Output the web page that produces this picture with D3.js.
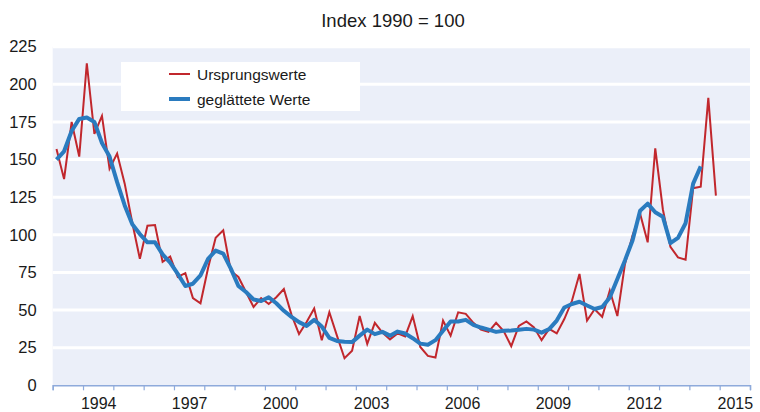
<!DOCTYPE html>
<html lang="de">
<head>
<meta charset="utf-8">
<title>Index 1990 = 100</title>
<script src="https://cdn.jsdelivr.net/npm/d3@7"></script>
<style>
  body { margin: 0; background: #fff; }
  text { font-family: "Liberation Sans", Arial, sans-serif; fill: #1a1a1a; }
</style>
</head>
<body>
<div id="chart"></div>
<script>
// quarterly values, first quarter = 1993 Q1
const startYear = 1993;
const ursprung = [
  157, 137, 175, 152,   214, 167, 179, 144,   154, 134, 108, 84,
  106, 106.5, 82, 85.5, 72, 74.5, 58, 54.5,   78, 98, 103, 76,
  72, 62, 52, 58,       54, 58.5, 64, 47,     34, 42, 51, 30,
  48.5, 33, 18, 23,     46, 27.5, 41.5, 35,   30.5, 34.5, 32.5, 46,
  25.5, 19.5, 18.5, 43, 33, 48.5, 47.5, 41.5, 37, 35.5, 41.5, 36,
  26, 39.5, 42.5, 38.5, 30, 37.5, 34.5, 44,   56, 74, 43, 50.5,
  45.5, 63, 46, 80.5,   99.5, 114, 95, 157.5, 117, 92, 85, 83.5,
  131, 132, 191, 126
];
const geglaettet = [
  150, 155.5, 169, 177, 178, 175, 161, 152,   135, 119.5, 107, 100.5,
  95, 95, 87, 81.5,     74, 66, 67.5, 73,     84, 89.5, 87.5, 77.5,
  66, 62, 57, 56,       58.5, 54.5, 49.5, 45.5, 42, 39.5, 43.5, 39,
  31.5, 29.5, 29, 28.7, 33, 37, 34, 35.5,     33, 35.7, 34.4, 31.3,
  27.7, 27, 30, 36.2,   42.4, 42.4, 43.5, 40.2, 38.4, 37, 35.5, 36.2,
  36.4, 36.9, 37.5, 37, 35, 37.3, 43, 51.7,   54, 55.5, 53, 50.7,
  52, 58.4, 70.7, 83,   96.2, 116, 120.7, 115, 112, 94.5, 98, 107.7,
  134, 145.5
];
const yTicks = [0, 25, 50, 75, 100, 125, 150, 175, 200, 225];
const yearTicks = d3.range(1993, 2017);
const yearLabels = [1994, 1997, 2000, 2003, 2006, 2009, 2012, 2015];
const seriesNames = ["Ursprungswerte", "geglättete Werte"];
const colors = ["#c1272d", "#2a7bbf"];

const width = 760, height = 412;
const margin = {top: 46.7, right: 10, bottom: 26.7, left: 52.7};

const svg = d3.select("#chart").append("svg")
    .attr("width", width)
    .attr("height", height);

const x = d3.scaleLinear()
    .domain([1993, 2016])
    .range([margin.left, width - margin.right]);

const y = d3.scaleLinear()
    .domain([0, 225])
    .range([height - margin.bottom, margin.top]);

// plot background
svg.append("rect")
    .attr("x", x(1993))
    .attr("y", y(225))
    .attr("width", x(2016) - x(1993))
    .attr("height", y(0) - y(225))
    .attr("fill", "#ebeff9");

// white gridlines
svg.append("g")
    .selectAll("line")
    .data(yTicks.filter(d => d > 0))
    .enter()
    .append("line")
        .attr("x1", x(1993))
        .attr("x2", x(2016))
        .attr("y1", d => y(d))
        .attr("y2", d => y(d))
        .attr("stroke", "#fff")
        .attr("stroke-width", 3);

// y labels
const yAxis = svg.append("g")
    .attr("transform", `translate(${margin.left},0)`)
    .call(d3.axisLeft(y).tickValues(yTicks).tickSize(0).tickPadding(16));
yAxis.select(".domain").remove();
yAxis.selectAll("text")
    .style("font-size", "16.5px")
    .style("font-family", "'Liberation Sans', Arial, sans-serif")
    .attr("fill", "#1a1a1a");

// x axis with yearly ticks
const xAxis = svg.append("g")
    .attr("transform", `translate(0,${y(0)})`)
    .call(d3.axisBottom(x).tickValues(yearTicks).tickSize(5).tickFormat(""));
xAxis.select(".domain").attr("stroke", "#8eaadb").attr("stroke-width", 1.5);
xAxis.selectAll(".tick line").attr("stroke", "#8eaadb").attr("stroke-width", 1.2);

// year labels, centred in each year
const xLabels = svg.append("g")
    .attr("transform", `translate(0,${y(0)})`)
    .call(d3.axisBottom(x)
        .tickValues(yearLabels.map(d => d + 0.5))
        .tickSize(0)
        .tickPadding(12)
        .tickFormat(d => Math.floor(d)));
xLabels.select(".domain").remove();
xLabels.selectAll("text")
    .style("font-size", "16px")
    .style("font-family", "'Liberation Sans', Arial, sans-serif")
    .attr("fill", "#1a1a1a");

// lines
const qx = (d, i) => x(startYear + (i + 0.5) / 4);
const line = d3.line()
    .x(qx)
    .y(d => y(d));

svg.append("path")
    .datum(ursprung)
    .attr("d", line)
    .attr("fill", "none")
    .attr("stroke", colors[0])
    .attr("stroke-width", 2)
    .attr("stroke-linejoin", "miter");

svg.append("path")
    .datum(geglaettet)
    .attr("d", line)
    .attr("fill", "none")
    .attr("stroke", colors[1])
    .attr("stroke-width", 4)
    .attr("stroke-linejoin", "round");

// legend
const legend = svg.append("g");
legend.append("rect")
    .attr("x", 121).attr("y", 62)
    .attr("width", 239).attr("height", 49)
    .attr("fill", "#fff");

seriesNames.forEach((name, i) => {
    const ly = 74 + i * 25;
    legend.append("line")
        .attr("x1", 169).attr("x2", 190)
        .attr("y1", ly).attr("y2", ly)
        .attr("stroke", colors[i])
        .attr("stroke-width", i == 0 ? 2 : 4);
    legend.append("text")
        .attr("x", 197)
        .attr("y", ly + 5.5)
        .style("font-size", "15.5px")
        .text(name);
});

// title
svg.append("text")
    .attr("x", 393)
    .attr("y", 27)
    .attr("text-anchor", "middle")
    .style("font-size", "18.5px")
    .text("Index 1990 = 100");
</script>
</body>
</html>
